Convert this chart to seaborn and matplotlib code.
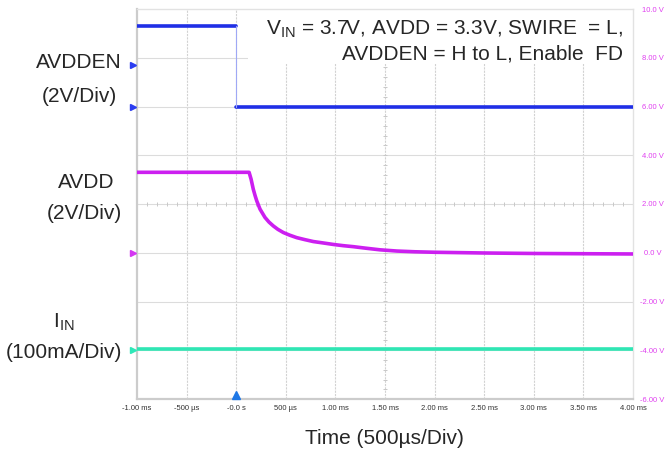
import numpy as np
import pandas as pd
import matplotlib
matplotlib.use("Agg")
import matplotlib.pyplot as plt
import matplotlib.transforms as mtrans
import seaborn as sns

# ---------------- data ----------------
# time in ms, screen value in volts (2 V/div grid, -6 .. 10 V)
EN_T = [-1.0, 0.0, 0.0, 4.0]
EN_V = [9.3, 9.3, 6.0, 6.0]

AVDD_T = [-1.0, 0.13, 0.15, 0.172, 0.19, 0.207, 0.24, 0.29, 0.33, 0.374,
          0.42, 0.475, 0.54, 0.61, 0.69, 0.777, 0.88, 0.98, 1.08, 1.18,
          1.3, 1.45, 1.62, 1.8, 2.0, 2.5, 3.0, 3.5, 4.0]
AVDD_V = [3.3, 3.3, 3.02, 2.61, 2.35, 2.13, 1.79, 1.45, 1.26, 1.10,
          0.96, 0.83, 0.72, 0.62, 0.54, 0.46, 0.40, 0.34, 0.29, 0.25,
          0.19, 0.12, 0.07, 0.04, 0.02, -0.01, -0.03, -0.04, -0.05]

IIN_T = [-1.0, 4.0]
IIN_V = [-3.95, -3.95]

X_TICKS = [-1.0, -0.5, 0.0, 0.5, 1.0, 1.5, 2.0, 2.5, 3.0, 3.5, 4.0]
X_LABELS = ["-1.00 ms", "-500 µs", "-0.0 s", "500 µs", "1.00 ms", "1.50 ms",
            "2.00 ms", "2.50 ms", "3.00 ms", "3.50 ms", "4.00 ms"]
Y_TICKS = [10, 8, 6, 4, 2, 0, -2, -4, -6]
Y_LABELS = ["10.0 V", "8.00 V", "6.00 V", "4.00 V", "2.00 V", "0.0 V",
            "-2.00 V", "-4.00 V", "-6.00 V"]

# channel markers at the left edge (value in V)
MARK_V = [7.7, 6.0, 0.0, -4.0]
MARK_C = ["#2a3cf0", "#2a3cf0", "#d437f2", "#2ee8b8"]

BLUE = "#1f2fe6"
MAGENTA = "#cc1ff0"
CYAN = "#2fe6b4"

# ---------------- figure ----------------
sns.set_theme(style="white")
plt.rcParams["font.family"] = ["Liberation Sans", "DejaVu Sans"]

fig = plt.figure(figsize=(6.7, 4.57), dpi=100)
ax = fig.add_axes([137 / 670, 1 - 399 / 457, (633 - 137) / 670, (399 - 9) / 457])

ax.set_xlim(-1.0, 4.0)
ax.set_ylim(-6.0, 10.0)

# grid
for x in X_TICKS[1:-1]:
    ax.axvline(x, color="#d2d2d2", lw=0.8, ls=(0, (2, 1)), zorder=0)
for y in Y_TICKS[1:-1]:
    ax.axhline(y, color="#dcdcdc", lw=0.8, zorder=0)

# minor ticks on centre lines
mx = np.arange(-1.0, 4.0001, 0.1)
ax.plot(mx, np.full_like(mx, 2.0), ls="none", marker="|", ms=3.5, mew=0.7,
        color="#c8c8c8", zorder=0)
my = np.arange(-6.0, 10.0001, 0.4)
ax.plot(np.full_like(my, 1.5), my, ls="none", marker="_", ms=3.5, mew=0.7,
        color="#c8c8c8", zorder=0)

# white box behind annotation
ax.add_patch(plt.Rectangle((0.12, 7.75), 3.88, 2.25, facecolor="white",
                           edgecolor="none", zorder=1))

# traces
en_hi = pd.DataFrame({"t": EN_T[:2], "v": EN_V[:2]})
en_lo = pd.DataFrame({"t": EN_T[2:], "v": EN_V[2:]})
en_edge = pd.DataFrame({"t": EN_T[1:3], "v": EN_V[1:3]})
sns.lineplot(data=en_hi, x="t", y="v", ax=ax, color=BLUE, lw=2.6,
             estimator=None, sort=False, zorder=3)
sns.lineplot(data=en_lo, x="t", y="v", ax=ax, color=BLUE, lw=2.6,
             estimator=None, sort=False, zorder=3)
sns.lineplot(data=en_edge, x="t", y="v", ax=ax, color="#9fa8f5", lw=0.8,
             estimator=None, sort=False, zorder=3)

avdd = pd.DataFrame({"t": AVDD_T, "v": AVDD_V})
sns.lineplot(data=avdd, x="t", y="v", ax=ax, color=MAGENTA, lw=2.6,
             estimator=None, sort=False, zorder=3)

iin = pd.DataFrame({"t": IIN_T, "v": IIN_V})
sns.lineplot(data=iin, x="t", y="v", ax=ax, color=CYAN, lw=2.6,
             estimator=None, sort=False, zorder=3)

# left channel markers
trans = mtrans.blended_transform_factory(ax.transAxes, ax.transData)
for v, c in zip(MARK_V, MARK_C):
    ax.plot([-0.009], [v], marker=">", ms=4, color=c, transform=trans,
            clip_on=False, zorder=5)

# trigger marker
ax.plot([0.0], [-5.85], marker="^", ms=6, color="#1f78e6", clip_on=False,
        zorder=5)

# axes styling
ax.set_xticks(X_TICKS)
ax.set_xticklabels(X_LABELS, fontsize=5.5, color="#333333")
ax.yaxis.tick_right()
ax.set_yticks(Y_TICKS)
ax.set_yticklabels(Y_LABELS, fontsize=5.5, color="#e040f0", ha="center")
ax.tick_params(axis="x", length=0, pad=4)
ax.tick_params(axis="y", length=0, pad=14)
ax.set_xlabel("")
ax.set_ylabel("")
for side in ["left", "bottom"]:
    ax.spines[side].set_color("#cccccc")
    ax.spines[side].set_linewidth(1.6)
for side in ["top", "right"]:
    ax.spines[side].set_color("#e2e2e2")
    ax.spines[side].set_linewidth(1.0)

# texts
FS = 15
fig.text(79 / 670, 1 - 63 / 457, "AVDDEN", fontsize=FS, ha="center", va="center")
fig.text(79 / 670, 1 - 97 / 457, "(2V/Div)", fontsize=FS, ha="center", va="center")
fig.text(86 / 670, 1 - 182 / 457, "AVDD", fontsize=FS, ha="center", va="center")
fig.text(84 / 670, 1 - 213 / 457, "(2V/Div)", fontsize=FS, ha="center", va="center")
fig.text(64 / 670, 1 - 322 / 457, r"I$_{\mathregular{IN}}$", fontsize=FS,
         ha="center", va="center")
fig.text(64 / 670, 1 - 352 / 457, "(100mA/Div)", fontsize=FS, ha="center",
         va="center")
fig.text(384 / 670, 1 - 438 / 457, "Time (500µs/Div)", fontsize=FS,
         ha="center", va="center")

fig.text(623 / 670, 1 - 29 / 457,
         r"V$_{\mathregular{IN}}$ = 3.7V, AVDD = 3.3V, SWIRE  = L,",
         fontsize=FS, ha="right", va="center")
fig.text(623 / 670, 1 - 54 / 457, "AVDDEN = H to L, Enable  FD",
         fontsize=FS, ha="right", va="center")

fig.savefig("out.png", dpi=100, facecolor="white")
